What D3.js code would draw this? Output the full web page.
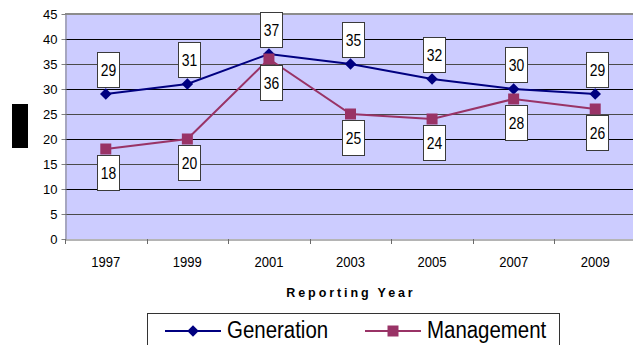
<!DOCTYPE html>
<html>
<head>
<meta charset="utf-8">
<script src="https://cdn.jsdelivr.net/npm/d3@7"></script>
<style>
  html, body { margin: 0; padding: 0; background: #fff; }
  svg { display: block; font-family: "Liberation Sans", Arial, sans-serif; }
</style>
</head>
<body>
<svg id="chart" width="633" height="345"></svg>
<script>
// Reporting years and series values
const years = ["1997", "1999", "2001", "2003", "2005", "2007", "2009"];
const generation = [29, 31, 37, 35, 32, 30, 29];
const management = [18, 20, 36, 25, 24, 28, 26];
const yTicks = [0, 5, 10, 15, 20, 25, 30, 35, 40, 45];
const seriesNames = ["Generation", "Management"];

const plot = { left: 65, right: 636, top: 14, bottom: 239 };
const squeeze = 0.87;

const svg = d3.select("#chart");

const x = d3.scaleBand().domain(years).range([plot.left, plot.right]);
const y = d3.scaleLinear().domain([0, 45]).range([plot.bottom, plot.top]);
const cx = d => x(d) + x.bandwidth() / 2;

// Plot background
svg.append("rect")
  .attr("x", plot.left).attr("y", plot.top)
  .attr("width", plot.right - plot.left).attr("height", plot.bottom - plot.top)
  .attr("fill", "#CCCCFF");

// Horizontal gridlines
svg.append("g").selectAll("line")
  .data(yTicks.filter(v => v > 0 && v < 45))
  .join("line")
  .attr("x1", plot.left).attr("x2", plot.right)
  .attr("y1", d => Math.round(y(d)) + 0.5).attr("y2", d => Math.round(y(d)) + 0.5)
  .attr("stroke", d => d % 10 === 0 ? "#000" : "#4a4a4a")
  .attr("stroke-width", 1);

// Top border of plot area
svg.append("line")
  .attr("x1", plot.left).attr("x2", plot.right)
  .attr("y1", plot.top).attr("y2", plot.top)
  .attr("stroke", "#8c8c8c").attr("stroke-width", 2);

// Y axis
const yAxis = svg.append("g")
  .attr("transform", `translate(${plot.left + 0.5},0)`)
  .call(d3.axisLeft(y).tickValues(yTicks).tickSize(4).tickSizeOuter(0).tickPadding(4));
yAxis.select(".domain").attr("stroke", "#808080");
yAxis.selectAll(".tick line").attr("stroke", "#808080");
yAxis.selectAll(".tick text")
  .attr("font-family", "Liberation Sans, Arial, sans-serif")
  .attr("font-size", 13).attr("fill", "#000");

// X axis: labels at category centres
const xAxis = svg.append("g")
  .attr("transform", `translate(0,${plot.bottom + 0.5})`)
  .call(d3.axisBottom(x).tickSize(0).tickPadding(17));
xAxis.select(".domain").attr("stroke", "#6a6a6a");
xAxis.selectAll(".tick text")
  .attr("font-family", "Liberation Sans, Arial, sans-serif")
  .attr("font-size", 15).attr("fill", "#000")
  .attr("transform", `scale(${squeeze},1)`);

// X axis tick marks on category boundaries
svg.append("g").selectAll("line")
  .data(years)
  .join("line")
  .attr("x1", d => Math.round(x(d)) + 0.5).attr("x2", d => Math.round(x(d)) + 0.5)
  .attr("y1", plot.bottom).attr("y2", plot.bottom + 5)
  .attr("stroke", "#6a6a6a");

// X axis title
svg.append("text")
  .attr("x", 351).attr("y", 297)
  .attr("text-anchor", "middle")
  .attr("font-size", 12.5).attr("font-weight", "bold")
  .attr("letter-spacing", 2.9)
  .attr("fill", "#000")
  .text("Reporting Year");

// Y axis title block
svg.append("rect")
  .attr("x", 12).attr("y", 104).attr("width", 16).attr("height", 44)
  .attr("fill", "#000");

// Series lines and markers
const line = d3.line().x((d, i) => cx(years[i])).y(d => y(d));
const diamond = d3.symbol().type(d3.symbolDiamond2).size(85);
const square = d3.symbol().type(d3.symbolSquare).size(121);

svg.append("path").datum(generation)
  .attr("d", line).attr("fill", "none")
  .attr("stroke", "#000080").attr("stroke-width", 2);
svg.append("g").selectAll("path")
  .data(generation)
  .join("path")
  .attr("transform", (d, i) => `translate(${cx(years[i])},${y(d)})`)
  .attr("d", diamond).attr("fill", "#000080");

svg.append("path").datum(management)
  .attr("d", line).attr("fill", "none")
  .attr("stroke", "#993366").attr("stroke-width", 2);
svg.append("g").selectAll("path")
  .data(management)
  .join("path")
  .attr("transform", (d, i) => `translate(${cx(years[i])},${y(d)})`)
  .attr("d", square).attr("fill", "#993366");

// Data labels: boxes above Generation points, below Management points
const boxW = 22, boxH = 35;
function labels(values, above) {
  const g = svg.append("g").selectAll("g")
    .data(values)
    .join("g")
    .attr("transform", (d, i) => {
      const px = cx(years[i]) + 2;
      const py = above ? y(d) - 7 - boxH : y(d) + 6;
      return `translate(${Math.round(px - boxW / 2) + 0.5},${Math.round(py) + 0.5})`;
    });
  g.append("rect")
    .attr("width", boxW).attr("height", boxH)
    .attr("fill", "#fff").attr("stroke", "#3a3a3a").attr("stroke-width", 1);
  g.append("text")
    .attr("transform", `translate(${boxW / 2},${boxH / 2 + 6}) scale(${squeeze},1)`)
    .attr("text-anchor", "middle")
    .attr("font-size", 16).attr("fill", "#000")
    .text(d => d);
}
labels(generation, true);
labels(management, false);

// Legend
const legend = svg.append("g");
legend.append("rect")
  .attr("x", 147.5).attr("y", 313.5).attr("width", 412).attr("height", 50)
  .attr("fill", "#fff").attr("stroke", "#333");

const legendItems = [
  { name: seriesNames[0], color: "#000080", sym: diamond, x0: 165 },
  { name: seriesNames[1], color: "#993366", sym: square, x0: 365 }
];
legendItems.forEach(it => {
  const ly = 331;
  legend.append("line")
    .attr("x1", it.x0).attr("x2", it.x0 + 56)
    .attr("y1", ly).attr("y2", ly)
    .attr("stroke", it.color).attr("stroke-width", 2);
  legend.append("path")
    .attr("transform", `translate(${it.x0 + 28},${ly})`)
    .attr("d", it.sym).attr("fill", it.color);
  legend.append("text")
    .attr("transform", `translate(${it.x0 + 62},${ly + 7}) scale(${squeeze},1)`)
    .attr("font-size", 23.5).attr("fill", "#000")
    .text(it.name);
});
</script>
</body>
</html>
